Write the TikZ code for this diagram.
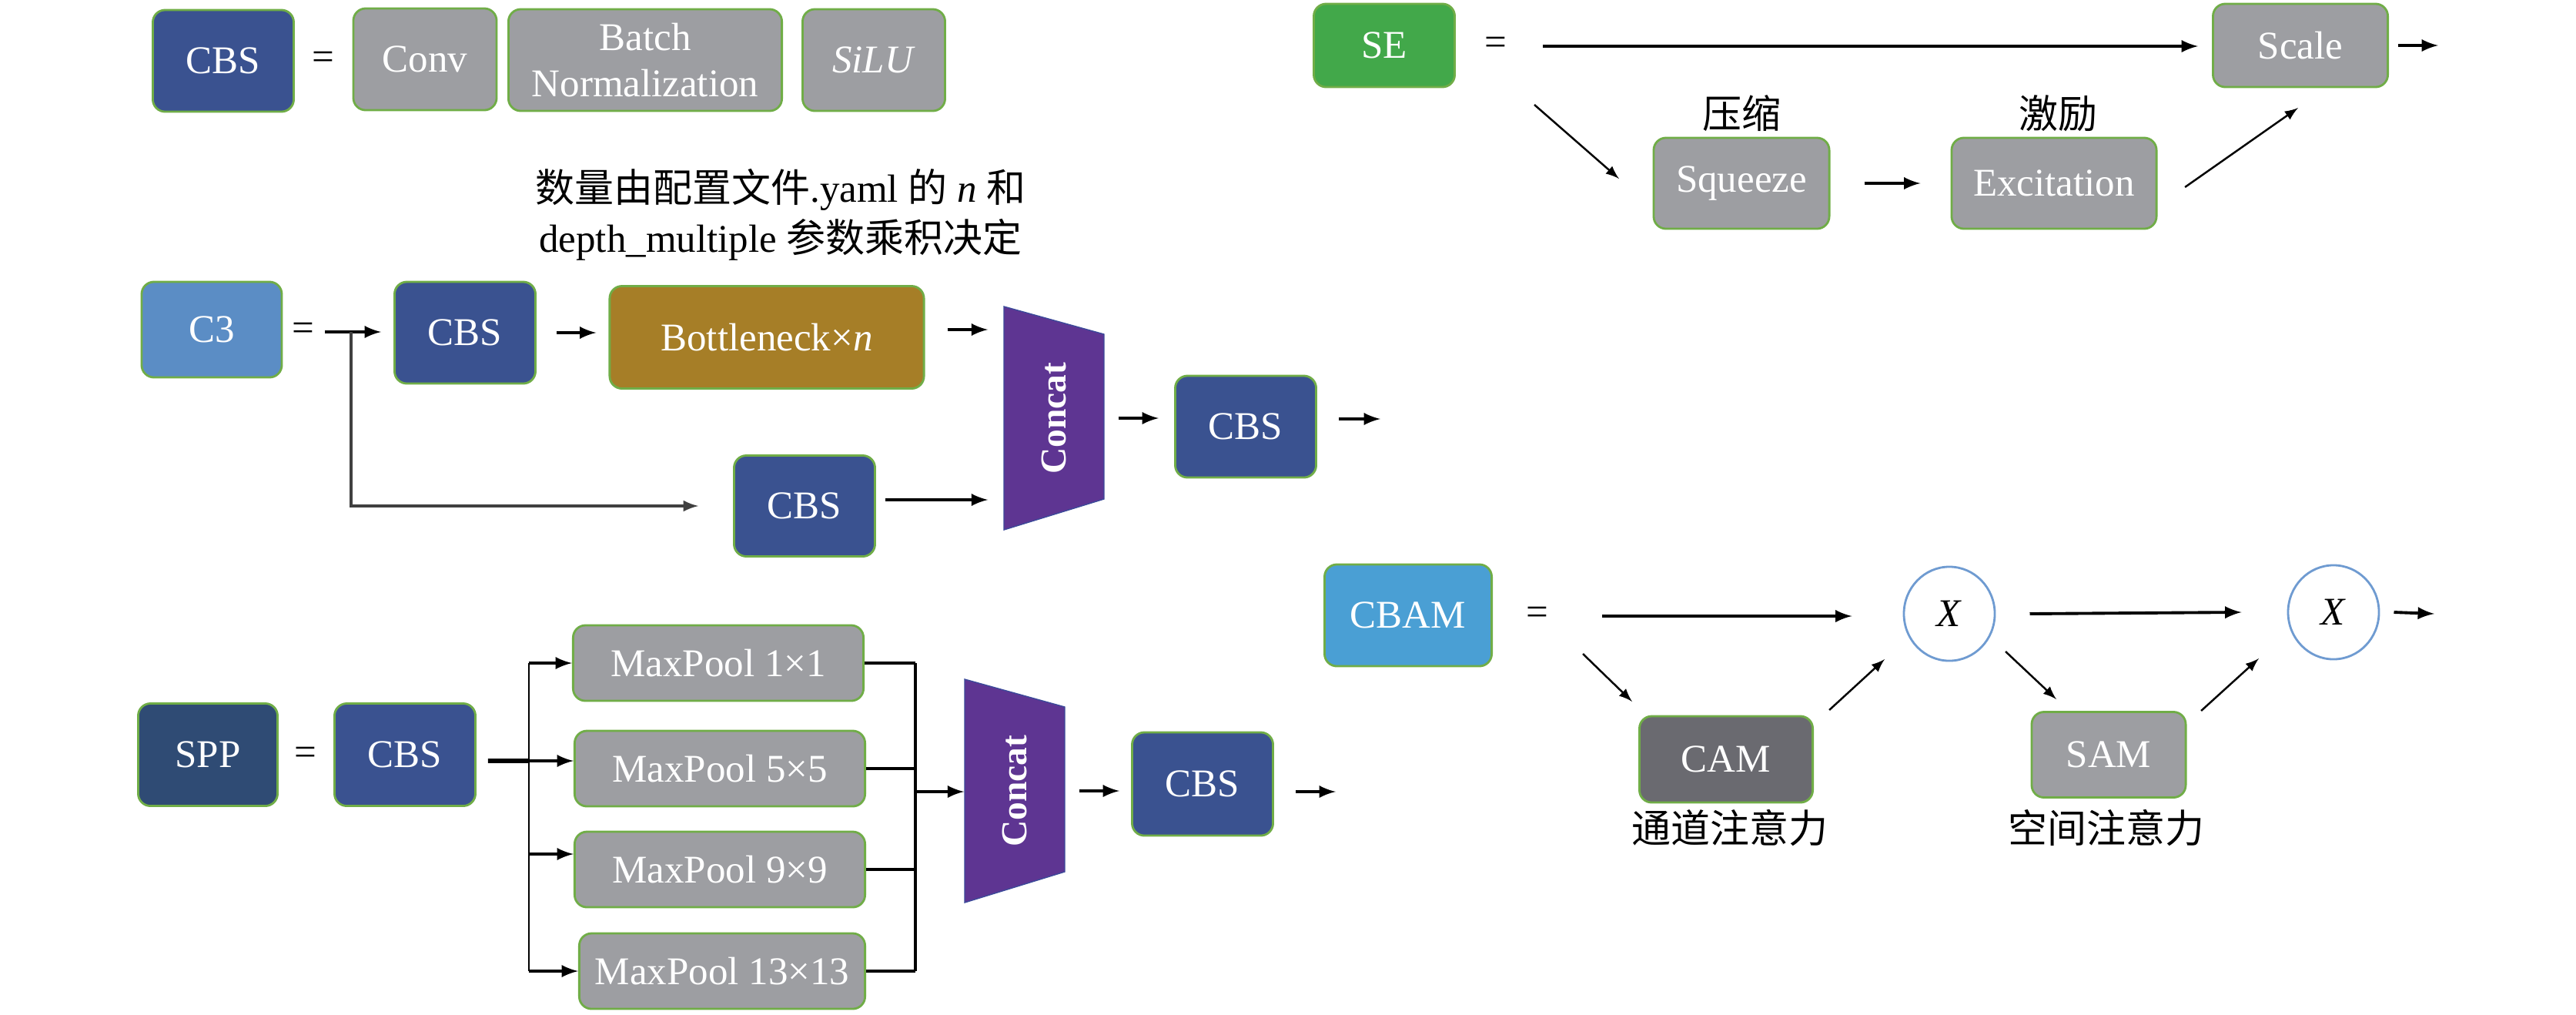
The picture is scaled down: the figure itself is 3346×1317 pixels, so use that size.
\documentclass[tikz,border=0pt]{standalone}
\usepackage{fontspec}
\setmainfont{Liberation Serif}
\newfontfamily\cjk{Noto Sans CJK SC}
\usetikzlibrary{arrows}
\usetikzlibrary{shapes.geometric}
\definecolor{cbsblue}{RGB}{58,82,144}
\definecolor{boxgray}{RGB}{157,158,162}
\definecolor{boxgreen}{RGB}{112,173,71}
\definecolor{cthree}{RGB}{91,141,197}
\definecolor{bottle}{RGB}{166,126,39}
\definecolor{catpurple}{RGB}{94,53,146}
\definecolor{catedge}{RGB}{60,74,154}
\definecolor{sppblue}{RGB}{47,75,116}
\definecolor{segreen}{RGB}{66,168,74}
\definecolor{cbamblue}{RGB}{74,159,212}
\definecolor{camgray}{RGB}{106,106,112}
\definecolor{ringblue}{RGB}{111,155,209}

\begin{document}
\begin{tikzpicture}[x=0.01cm, y=-0.01cm,
  every node/.style={font=\fontsize{14.5}{17}\selectfont},
  blk/.style={draw=boxgreen, line width=0.8pt, rounded corners=0.16cm, text=white, inner sep=0pt, align=center},
  cbs/.style={blk, fill=cbsblue, minimum width=1.83cm, minimum height=1.32cm},
  gbox/.style={blk, fill=boxgray, minimum height=1.32cm},
  pool/.style={blk, fill=boxgray, minimum width=3.77cm, minimum height=0.98cm},
  cat/.style={inner sep=0pt, minimum width=1.3cm, minimum height=2.9cm, text=white, font=\fontsize{13.5}{16}\selectfont\bfseries},
  ring/.style={ellipse, draw=ringblue, line width=0.8pt, minimum width=1.18cm, minimum height=1.22cm, inner sep=0pt},
  arr/.style={-latex, line width=1.1pt},
  thin/.style={-latex, line width=0.7pt},
]
\useasboundingbox (0,0) rectangle (3346,1317);

%%%%%%%%%% CBS
\node[cbs] (cbs0) at (290,79) {CBS};
\node (eq0) at (420,79) {=};
\node[gbox, minimum width=1.86cm] (conv) at (552,77) {Conv};
\node[gbox, minimum width=3.55cm] (bn) at (838,78) {Batch\\Normalization};
\node[gbox, minimum width=1.85cm] (silu) at (1135,78) {\textit{SiLU}};

%%%%%%%%%% C3
\node[blk, fill=cthree, minimum width=1.82cm, minimum height=1.24cm] (c3) at (275,428) {C3};
\node (eq1) at (394,431) {=};
\node[font=\fontsize{14.5}{18.5}\selectfont, align=center] (note) at (1014,279)
  {{\cjk 数量由配置文件}.yaml {\cjk 的} \textit{n} {\cjk 和}\\depth\_multiple {\cjk 参数乘积决定}};
\node[cbs] (cbs1) at (604,432) {CBS};
\node[blk, fill=bottle, minimum width=4.08cm, minimum height=1.33cm] (bott) at (996,438) {Bottleneck×\textit{n}};
\fill[catpurple, draw=catedge, line width=0.4pt] (1304,398) -- (1434,434) -- (1434,648) -- (1304,688) -- cycle;
\node[cat] (cat1) at (1369,543) {\rotatebox{90}{Concat}};
\node[cbs] (cbs2) at (1618,554) {CBS};
\node[cbs, minimum height=1.31cm] (cbs3) at (1045,657) {CBS};

\coordinate (c3in) at (422,431);
\coordinate (c3split) at (456,431);
\coordinate (c3out) at (1793,544);
\draw[arr] (c3in) -- ([xshift=-0.16cm]cbs1.west |- c3in);
\draw[arr] ([xshift=0.26cm]cbs1.east) -- ([xshift=-0.16cm]cbs1.east -| bott.west);
\draw[arr] ([xshift=0.29cm,yshift=0.1cm]bott.east) -- ([xshift=-0.2cm,yshift=0.1cm]bott.east -| cat1.west);
\draw[arr] ([xshift=0.18cm]cat1.east) -- ([xshift=-0.2cm]cat1.east -| cbs2.west);
\draw[arr] ([xshift=0.28cm]cbs2.east |- c3out) -- (c3out);
\draw[-latex, line width=0.9pt, black!75] (c3split) |- ([xshift=-0.45cm]cbs3.west);
\draw[arr] ([xshift=0.12cm,yshift=0.08cm]cbs3.east) -- ([xshift=-0.2cm,yshift=0.08cm]cbs3.east -| cat1.west);

%%%%%%%%%% SPP
\node[blk, fill=sppblue, minimum width=1.81cm, minimum height=1.33cm] (spp) at (270,980) {SPP};
\node (eq2) at (397,982) {=};
\node[cbs, minimum height=1.33cm] (cbs4) at (526,980) {CBS};
\node[pool] (mp1) at (933,861) {MaxPool 1×1};
\node[pool] (mp5) at (935,998) {MaxPool 5×5};
\node[pool] (mp9) at (935,1129) {MaxPool 9×9};
\node[pool, minimum width=3.71cm] (mp13) at (938,1261) {MaxPool 13×13};
\fill[catpurple, draw=catedge, line width=0.4pt] (1253,882) -- (1383,918) -- (1383,1132) -- (1253,1172) -- cycle;
\node[cat] (cat2) at (1318,1027) {\rotatebox{90}{Concat}};
\node[cbs, minimum height=1.34cm] (cbs5) at (1562,1018) {CBS};

\coordinate (sppfork) at (687,988);
\coordinate (sppjoin) at (1189,1028);
\coordinate (sppout) at (1735,1028);
\draw[line width=1.6pt] ([xshift=0.15cm,yshift=-0.08cm]cbs4.east) -- (sppfork);
\draw[line width=0.7pt] (mp1.west -| sppfork) -- (mp13.west -| sppfork);
\foreach \p/\s in {mp1/0, mp5/0.1, mp9/0.2, mp13/0}
  \draw[arr] ([yshift=\s cm]\p.west -| sppfork) -- ([yshift=\s cm]\p.west);
\foreach \p in {mp1, mp5, mp9, mp13}
  \draw[line width=0.9pt] (\p.east) -- (\p.east -| sppjoin);
\draw[line width=0.9pt] (mp1.east -| sppjoin) -- (mp13.east -| sppjoin);
\draw[arr] (sppjoin) -- (sppjoin -| cat2.west);
\draw[arr] ([xshift=0.18cm]cat2.east) -- ([xshift=-0.15cm]cat2.east -| cbs5.west);
\draw[arr] ([xshift=0.28cm]cbs5.east |- sppout) -- (sppout);

%%%%%%%%%% SE
\node[blk, fill=segreen, minimum width=1.83cm, minimum height=1.08cm] (se) at (1798,59) {SE};
\node (eq3) at (1943,60) {=};
\node[gbox, minimum width=2.27cm, minimum height=1.08cm] (scale) at (2988,59) {Scale};
\node[gbox, minimum width=2.28cm, minimum height=1.18cm] (sq) at (2262,238) {Squeeze};
\node[gbox, minimum width=2.66cm, minimum height=1.18cm] (ex) at (2668,238) {Excitation};
\node (sqlab) at (2262,147) {\cjk 压缩};
\node (exlab) at (2673,147) {\cjk 激励};

\coordinate (sein) at (2004,60);
\coordinate (sedn) at (1993,136);
\coordinate (seout) at (3167,59);
\draw[arr] (sein) -- ([xshift=-0.18cm]scale.west |- sein);
\draw[arr] ([xshift=0.12cm]scale.east) -- (seout);
\draw[thin] (sedn) -- ([shift={(-1.59cm,0.06cm)}]sq.center);
\draw[arr] ([xshift=0.44cm]sq.east) -- ([xshift=-0.39cm]ex.west);
\draw[thin] ([shift={(1.7cm,-0.05cm)}]ex.center) -- ([shift={(-0.03cm,-0.81cm)}]scale.center);

%%%%%%%%%% CBAM
\node[blk, fill=cbamblue, minimum width=2.17cm, minimum height=1.32cm] (cbam) at (1829,799) {CBAM};
\node (eq4) at (1997,800) {=};
\node[ring] (mul1) at (2532,797) {\textit{X}};
\node[ring] (mul2) at (3031,795) {\textit{X}};
\node[gbox, fill=camgray, minimum width=2.25cm, minimum height=1.12cm] (cam) at (2242,986) {CAM};
\node[gbox, minimum width=2.0cm, minimum height=1.11cm] (sam) at (2739,980) {SAM};
\node (camlab) at (2247,1075) {\cjk 通道注意力};
\node (samlab) at (2736,1075) {\cjk 空间注意力};

\coordinate (cbamin) at (2081,800);
\coordinate (cbamdn) at (2056,849);
\coordinate (cbamout) at (3162,797);
\draw[arr] (cbamin) -- ([xshift=-0.66cm]mul1.west |- cbamin);
\draw[arr] ([xshift=0.44cm]mul1.east) -- ([xshift=-0.59cm]mul2.west);
\draw[arr] ([xshift=0.18cm]mul2.east) -- (cbamout);
\draw[thin] (cbamdn) -- ([shift={(-1.22cm,0.75cm)}]cam.center);
\draw[thin] ([shift={(1.34cm,0.64cm)}]cam.center) -- ([shift={(-0.84cm,-0.59cm)}]mul1.center);
\draw[thin] ([shift={(0.73cm,-0.49cm)}]mul1.center) -- ([shift={(-0.68cm,0.72cm)}]sam.center);
\draw[thin] ([shift={(1.2cm,0.57cm)}]sam.center) -- ([shift={(-0.97cm,-0.6cm)}]mul2.center);
\end{tikzpicture}
\end{document}
